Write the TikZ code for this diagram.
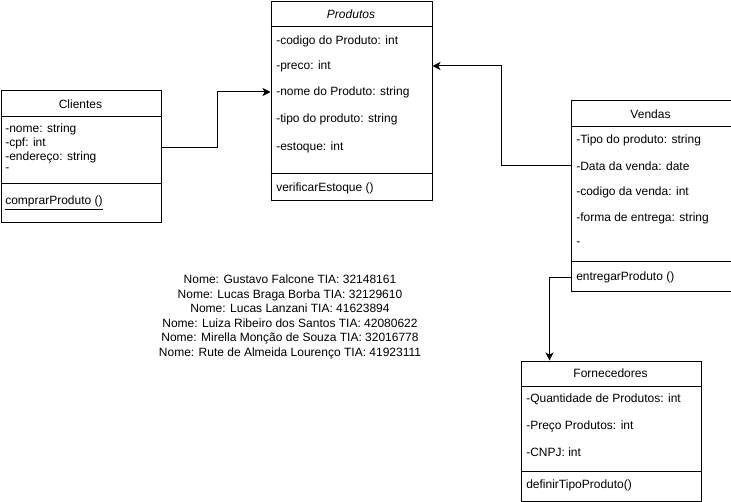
\documentclass[tikz,border=0pt]{standalone}
\usepackage{fontspec}
\setmainfont{Liberation Sans}
\usetikzlibrary{arrows.meta}
\begin{document}
\begin{tikzpicture}[x=0.75pt,y=-0.75pt,
  every node/.style={font=\fontsize{9}{10.8}\selectfont, text=black},
  cls/.style 2 args={draw, line width=0.75pt, inner sep=0pt, anchor=north west,
     minimum width=#1*0.75pt, minimum height=#2*0.75pt},
  sep/.style={line width=0.75pt},
  attr/.style={anchor=west, inner sep=0pt},
  ttl/.style={inner sep=0pt},
  conn/.style={line width=0.75pt, -{Stealth[length=6pt,width=6pt,inset=1.6pt]}}]
\useasboundingbox (0,0) rectangle (731,502);

% ---------- Produtos ----------
\node[cls={161}{199}] (prod) at (270.5,1.5) {};
\draw[sep] (prod.west |- 0,27) -- (prod.east |- 0,27);
\draw[sep] (prod.west |- 0,174) -- (prod.east |- 0,174);
\node[ttl] (prodT) at (351,14) {\itshape Produtos};
\node[attr] (p1) at (276,41) {-codigo do Produto: int};
\node[attr] (p2) at (276,66) {-preco: int};
\node[attr] (p3) at (276,92) {-nome do Produto: string};
\node[attr] (p4) at (276,119) {-tipo do produto: string};
\node[attr] (p5) at (276,147) {-estoque: int};
\node[attr] (pm) at (276,188) {verificarEstoque ()};

% ---------- Clientes ----------
\node[cls={160}{132}] (cli) at (0.5,90.5) {};
\draw[sep] (cli.west |- 0,117) -- (cli.east |- 0,117);
\draw[sep] (cli.west |- 0,184) -- (cli.east |- 0,184);
\node[ttl] (cliT) at (80.5,104) {Clientes};
\node[attr] (c1) at (5,129) {-nome: string};
\node[attr] (c2) at (5,143) {-cpf: int};
\node[attr] (c3) at (5,157) {-endereço: string};
\node[attr] (c4) at (5,170) {-};
\node[attr] (cm) at (5,203) {\underline{comprarProduto ()}};

% ---------- Vendas ----------
\node[cls={160}{190}] (ven) at (570.5,100.5) {};
\draw[sep] (ven.west |- 0,127) -- (ven.east |- 0,127);
\draw[sep] (ven.west |- 0,261) -- (ven.east |- 0,261);
\node[ttl] (venT) at (650.5,114) {Vendas};
\node[attr] (v1) at (576,140) {-Tipo do produto: string};
\node[attr] (v2) at (576,166) {-Data da venda: date};
\node[attr] (v3) at (576,192) {-codigo da venda: int};
\node[attr] (v4) at (576,218) {-forma de entrega: string};
\node[attr] (v5) at (576,244) {-};
\node[attr] (vm) at (576,277) {entregarProduto ()};

% ---------- Fornecedores ----------
\node[cls={180}{140}] (forn) at (520.5,360.5) {};
\draw[sep] (forn.west |- 0,386) -- (forn.east |- 0,386);
\draw[sep] (forn.west |- 0,471) -- (forn.east |- 0,471);
\node[ttl] (fornT) at (610.5,373) {Fornecedores};
\node[attr] (f1) at (526,399) {-Quantidade de Produtos: int};
\node[attr] (f2) at (526,426) {-Preço Produtos: int};
\node[attr] (f3) at (526,452) {-CNPJ: int};
\node[attr] (fm) at (526,485) {definirTipoProduto()};

% ---------- names ----------
\node[ttl, align=center, font=\fontsize{9}{10.9}\selectfont] (names) at (290,317) {%
Nome: Gustavo Falcone TIA: 32148161\\
Nome: Lucas Braga Borba TIA: 32129610\\
Nome: Lucas Lanzani TIA: 41623894\\
Nome: Luiza Ribeiro dos Santos TIA: 42080622\\
Nome: Mirella Monção de Souza TIA: 32016778\\
Nome: Rute de Almeida Lourenço TIA: 41923111};

% ---------- connectors ----------
\coordinate (cs) at (cli.east |- 0,147.5);
\draw[conn] (cs) -- ++(56,0) |- (prod.west |- p3.west);
\draw[conn] (ven.west |- v2.west) -- ++(-69,0) |- (prod.east |- p2.west);
\draw[conn] (ven.west |- vm.west) -- ++(-21,0) coordinate (k) -- (k |- forn.north);
\end{tikzpicture}
\end{document}
